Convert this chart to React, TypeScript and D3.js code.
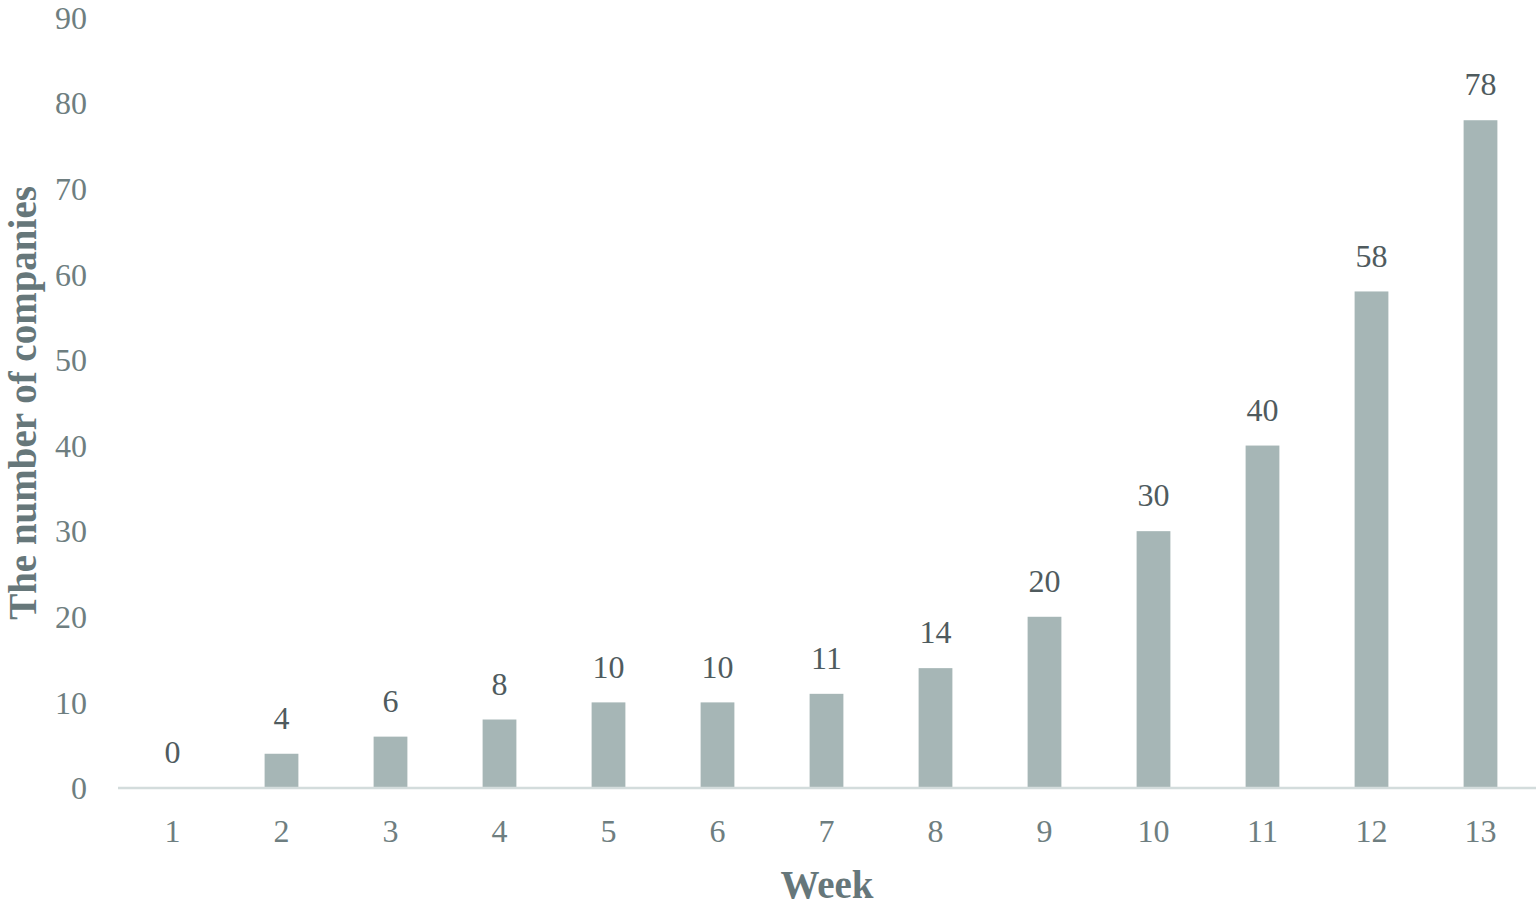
import React from "react";
import * as d3 from "d3";

const weeks = ["1", "2", "3", "4", "5", "6", "7", "8", "9", "10", "11", "12", "13"];
const companies = [0, 4, 6, 8, 10, 10, 11, 14, 20, 30, 40, 58, 78];
const yTicks = [0, 10, 20, 30, 40, 50, 60, 70, 80, 90];

const W = 1536;
const H = 909;
const FONT = "'Liberation Serif', 'Times New Roman', serif";

export default function App() {
  const x = d3.scaleBand<string>().domain(weeks).range([118, 1535]).paddingInner(0.69).paddingOuter(0.345);
  const y = d3.scaleLinear().domain([0, 90]).range([788, 17.5]);
  const tickColor = "#6e7e80";
  const labelColor = "#4f5b5e";
  return (
    <svg width={W} height={H} style={{ position: "absolute", left: 0, top: 0, background: "#fff" }}>
      {weeks.map((w, i) => (
        <rect key={w} x={x(w)} y={y(companies[i])} width={x.bandwidth()} height={y(0) - y(companies[i])} fill="#a6b6b6" />
      ))}
      <line x1={118} x2={1536} y1={y(0)} y2={y(0)} stroke="#d3dcdc" strokeWidth={2.5} />
      {yTicks.map((t) => (
        <text key={t} x={87} y={y(t)} dy="0.35em" textAnchor="end" fontFamily={FONT} fontSize={32} fill={tickColor}>
          {t}
        </text>
      ))}
      {weeks.map((w) => (
        <text key={w} x={x(w)! + x.bandwidth() / 2} y={831} dy="0.35em" textAnchor="middle" fontFamily={FONT} fontSize={32} fill={tickColor}>
          {w}
        </text>
      ))}
      {weeks.map((w, i) => (
        <text key={w} x={x(w)! + x.bandwidth() / 2} y={y(companies[i]) - 36} dy="0.35em" textAnchor="middle" fontFamily={FONT} fontSize={32} fill={labelColor}>
          {companies[i]}
        </text>
      ))}
      <text x={827} y={884} dy="0.35em" textAnchor="middle" fontFamily={FONT} fontSize={39} fontWeight="bold" fill="#66777a">
        Week
      </text>
      <text transform={`translate(22,403) rotate(-90)`} dy="0.35em" textAnchor="middle" fontFamily={FONT} fontSize={39} fontWeight="bold" fill="#66777a">
        The number of companies
      </text>
    </svg>
  );
}
